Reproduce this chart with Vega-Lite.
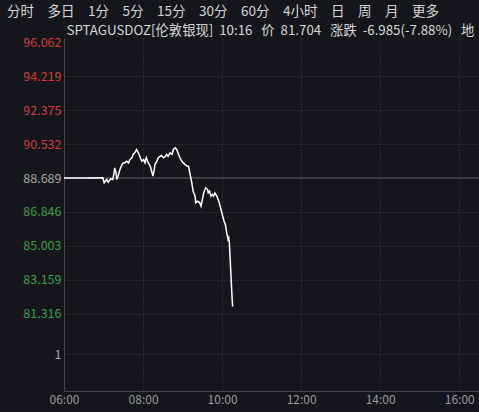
{
  "$schema": "https://vega.github.io/schema/vega-lite/v6.json",
  "width": 415,
  "height": 353,
  "autosize": {"type": "none"},
  "padding": {"left": 64, "top": 38, "right": 0, "bottom": 21},
  "background": "#14161b",
  "config": {"view": {"stroke": null}, "font": "Noto Sans CJK SC"},
  "title": {
    "text": "分时\u3000多日\u30001分\u30005分\u300015分\u300030分\u300060分\u30004小时\u3000日\u3000周\u3000月\u3000更多",
    "anchor": "start",
    "frame": "group",
    "dx": -57,
    "font": "Noto Sans CJK SC",
    "fontSize": 13.5,
    "fontWeight": "normal",
    "color": "#d6d6d6",
    "offset": 5
  },
  "layer": [
    {
      "data": {"values": [{"close": 88.689}]},
      "mark": {"type": "rule", "color": "#3b3d42", "strokeWidth": 2},
      "encoding": {"y": {"field": "close", "type": "quantitative"}}
    },
    {
      "data": {"values": [
        {"t": "2024-01-02T06:00", "v": 88.689},
        {"t": "2024-01-02T06:30", "v": 88.689},
        {"t": "2024-01-02T06:59", "v": 88.70},
        {"t": "2024-01-02T07:01", "v": 88.43},
        {"t": "2024-01-02T07:05", "v": 88.61},
        {"t": "2024-01-02T07:07", "v": 88.46},
        {"t": "2024-01-02T07:11", "v": 88.65},
        {"t": "2024-01-02T07:14", "v": 88.61},
        {"t": "2024-01-02T07:16", "v": 88.97},
        {"t": "2024-01-02T07:17", "v": 89.24},
        {"t": "2024-01-02T07:19", "v": 88.97},
        {"t": "2024-01-02T07:20", "v": 88.61},
        {"t": "2024-01-02T07:22", "v": 88.79},
        {"t": "2024-01-02T07:25", "v": 89.15},
        {"t": "2024-01-02T07:28", "v": 89.42},
        {"t": "2024-01-02T07:30", "v": 89.51},
        {"t": "2024-01-02T07:32", "v": 89.51},
        {"t": "2024-01-02T07:35", "v": 89.60},
        {"t": "2024-01-02T07:38", "v": 89.51},
        {"t": "2024-01-02T07:40", "v": 89.69},
        {"t": "2024-01-02T07:43", "v": 89.79},
        {"t": "2024-01-02T07:45", "v": 89.97},
        {"t": "2024-01-02T07:48", "v": 90.09},
        {"t": "2024-01-02T07:50", "v": 90.24},
        {"t": "2024-01-02T07:53", "v": 90.06},
        {"t": "2024-01-02T07:55", "v": 89.87},
        {"t": "2024-01-02T07:58", "v": 89.60},
        {"t": "2024-01-02T08:01", "v": 89.69},
        {"t": "2024-01-02T08:03", "v": 89.51},
        {"t": "2024-01-02T08:05", "v": 89.79},
        {"t": "2024-01-02T08:08", "v": 89.51},
        {"t": "2024-01-02T08:11", "v": 89.33},
        {"t": "2024-01-02T08:13", "v": 89.06},
        {"t": "2024-01-02T08:15", "v": 88.79},
        {"t": "2024-01-02T08:17", "v": 89.15},
        {"t": "2024-01-02T08:18", "v": 89.42},
        {"t": "2024-01-02T08:21", "v": 89.60},
        {"t": "2024-01-02T08:23", "v": 89.79},
        {"t": "2024-01-02T08:26", "v": 89.87},
        {"t": "2024-01-02T08:28", "v": 89.91},
        {"t": "2024-01-02T08:31", "v": 89.79},
        {"t": "2024-01-02T08:34", "v": 89.87},
        {"t": "2024-01-02T08:36", "v": 89.97},
        {"t": "2024-01-02T08:38", "v": 89.87},
        {"t": "2024-01-02T08:41", "v": 90.06},
        {"t": "2024-01-02T08:44", "v": 89.97},
        {"t": "2024-01-02T08:46", "v": 90.24},
        {"t": "2024-01-02T08:49", "v": 90.33},
        {"t": "2024-01-02T08:51", "v": 90.24},
        {"t": "2024-01-02T08:53", "v": 90.06},
        {"t": "2024-01-02T08:56", "v": 89.79},
        {"t": "2024-01-02T08:59", "v": 89.60},
        {"t": "2024-01-02T09:01", "v": 89.51},
        {"t": "2024-01-02T09:04", "v": 89.42},
        {"t": "2024-01-02T09:07", "v": 89.33},
        {"t": "2024-01-02T09:09", "v": 89.33},
        {"t": "2024-01-02T09:11", "v": 88.97},
        {"t": "2024-01-02T09:14", "v": 88.43},
        {"t": "2024-01-02T09:16", "v": 87.97},
        {"t": "2024-01-02T09:19", "v": 87.70},
        {"t": "2024-01-02T09:20", "v": 87.34},
        {"t": "2024-01-02T09:23", "v": 87.43},
        {"t": "2024-01-02T09:26", "v": 87.34},
        {"t": "2024-01-02T09:28", "v": 87.16},
        {"t": "2024-01-02T09:29", "v": 87.34},
        {"t": "2024-01-02T09:32", "v": 87.88},
        {"t": "2024-01-02T09:34", "v": 88.06},
        {"t": "2024-01-02T09:35", "v": 88.16},
        {"t": "2024-01-02T09:38", "v": 88.06},
        {"t": "2024-01-02T09:39", "v": 87.88},
        {"t": "2024-01-02T09:41", "v": 87.97},
        {"t": "2024-01-02T09:43", "v": 87.70},
        {"t": "2024-01-02T09:45", "v": 87.79},
        {"t": "2024-01-02T09:47", "v": 87.70},
        {"t": "2024-01-02T09:49", "v": 87.88},
        {"t": "2024-01-02T09:52", "v": 87.70},
        {"t": "2024-01-02T09:55", "v": 87.43},
        {"t": "2024-01-02T09:57", "v": 87.16},
        {"t": "2024-01-02T09:59", "v": 86.89},
        {"t": "2024-01-02T10:01", "v": 86.61},
        {"t": "2024-01-02T10:03", "v": 86.34},
        {"t": "2024-01-02T10:05", "v": 86.16},
        {"t": "2024-01-02T10:07", "v": 85.71},
        {"t": "2024-01-02T10:08", "v": 85.53},
        {"t": "2024-01-02T10:09", "v": 85.35},
        {"t": "2024-01-02T10:10", "v": 85.44},
        {"t": "2024-01-02T10:11", "v": 85.17},
        {"t": "2024-01-02T10:12", "v": 84.44},
        {"t": "2024-01-02T10:13", "v": 83.72},
        {"t": "2024-01-02T10:14", "v": 82.99},
        {"t": "2024-01-02T10:15", "v": 82.27},
        {"t": "2024-01-02T10:16", "v": 81.704}
      ]},
      "mark": {"type": "line", "color": "#ffffff", "strokeWidth": 1.5},
      "encoding": {
        "x": {
          "field": "t",
          "type": "temporal",
          "scale": {"domain": [
            {"year": 2024, "month": 1, "date": 2, "hours": 6},
            {"year": 2024, "month": 1, "date": 2, "hours": 16, "minutes": 30}
          ]},
          "axis": {
            "title": null,
            "format": "%H:%M",
            "values": [
              {"year": 2024, "month": 1, "date": 2, "hours": 6},
              {"year": 2024, "month": 1, "date": 2, "hours": 8},
              {"year": 2024, "month": 1, "date": 2, "hours": 10},
              {"year": 2024, "month": 1, "date": 2, "hours": 12},
              {"year": 2024, "month": 1, "date": 2, "hours": 14},
              {"year": 2024, "month": 1, "date": 2, "hours": 16}
            ],
            "tickCount": 20,
            "grid": true,
            "gridDash": [1, 2],
            "gridColor": "#3a3d44",
            "domainColor": "#44474d",
            "ticks": false,
            "labelColor": "#9a9a9a",
            "labelFont": "Noto Sans CJK SC",
            "labelFontSize": 12,
            "labelPadding": 3,
            "labelFlush": false,
            "labelOverlap": false
          }
        },
        "y": {
          "field": "v",
          "type": "quantitative",
          "scale": {"domain": [77.107, 96.302], "nice": false, "zero": false},
          "axis": {
            "title": "SPTAGUSDOZ[伦敦银现]\u00a0\u00a010:16\u00a0\u00a0\u00a0价\u00a0\u00a081.704\u00a0\u00a0\u00a0涨跌\u00a0\u00a0-6.985(-7.88%)\u00a0\u00a0\u00a0地",
            "titleAngle": 0,
            "titleAlign": "left",
            "titleBaseline": "alphabetic",
            "titleX": 2,
            "titleY": -4,
            "titleFont": "Noto Sans CJK SC",
            "titleFontSize": 13.3,
            "titleFontWeight": "normal",
            "titleColor": "#d6d6d6",
            "values": [96.062, 94.219, 92.375, 90.532, 88.689, 86.846, 85.003, 83.159, 81.316, 79.118],
            "tickCount": 30,
            "labelExpr": "datum.value < 80 ? '1' : format(datum.value, '.3f')",
            "labelColor": {
              "condition": [
                {"test": "datum.value > 88.7", "value": "#cf3b3f"},
                {"test": "datum.value > 88.6 || datum.value < 80", "value": "#a8a8a8"}
              ],
              "value": "#3a9f4a"
            },
            "gridColor": {
              "condition": {"test": "datum.value > 96", "value": "transparent"},
              "value": "#3a3d44"
            },
            "grid": true,
            "gridDash": [1, 2],
            "domainColor": "#44474d",
            "ticks": false,
            "labelFont": "Noto Sans CJK SC",
            "labelFontSize": 12.5,
            "labelPadding": 3,
            "labelOverlap": false
          }
        }
      }
    }
  ]
}
